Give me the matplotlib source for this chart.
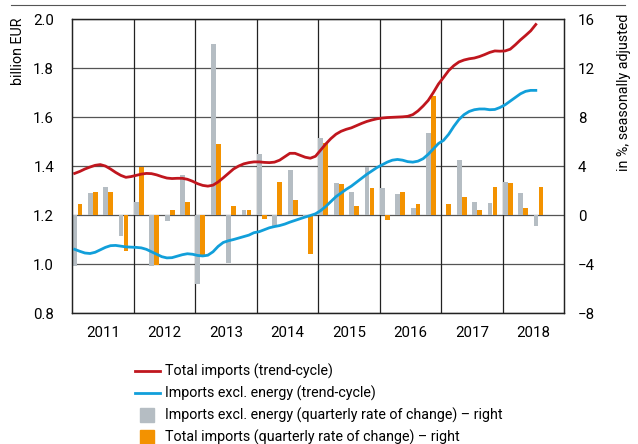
import matplotlib.pyplot as plt
import numpy as np
from matplotlib.lines import Line2D

plt.rcParams['font.family'] = ['Liberation Sans Narrow', 'Roboto', 'DejaVu Sans']

# monthly trend-cycle, billion EUR (Jan 2011 - Jul 2018)
total_trend = [
    1.370, 1.378, 1.388, 1.396, 1.403, 1.406, 1.400, 1.388, 1.374, 1.362, 1.354, 1.357,
    1.362, 1.367, 1.370, 1.369, 1.364, 1.357, 1.351, 1.349, 1.350, 1.350, 1.346, 1.338,
    1.328, 1.321, 1.318, 1.322, 1.335, 1.352, 1.370, 1.388, 1.400, 1.409, 1.414, 1.417,
    1.417, 1.415, 1.414, 1.416, 1.424, 1.438, 1.452, 1.452, 1.444, 1.436, 1.432, 1.440,
    1.465, 1.490, 1.512, 1.530, 1.542, 1.550, 1.556, 1.565, 1.574, 1.582, 1.588, 1.593,
    1.596, 1.598, 1.599, 1.600, 1.601, 1.603, 1.610, 1.625, 1.645, 1.668, 1.700, 1.735,
    1.762, 1.790, 1.810, 1.825, 1.833, 1.838, 1.841, 1.847, 1.855, 1.864, 1.870, 1.869,
    1.870, 1.877, 1.895, 1.915, 1.933, 1.952, 1.978,
]
excl_energy_trend = [
    1.060, 1.052, 1.045, 1.043, 1.048, 1.058, 1.068, 1.075, 1.076, 1.073, 1.070, 1.069,
    1.068, 1.066, 1.060, 1.050, 1.040, 1.030, 1.025, 1.026, 1.032, 1.038, 1.042, 1.040,
    1.035, 1.033, 1.036, 1.050, 1.072, 1.088, 1.095, 1.100, 1.106, 1.112, 1.118, 1.128,
    1.132, 1.140, 1.148, 1.153, 1.157, 1.163, 1.171, 1.178, 1.185, 1.192, 1.198, 1.205,
    1.218, 1.235, 1.255, 1.275, 1.290, 1.305, 1.318, 1.334, 1.350, 1.366, 1.380, 1.394,
    1.405, 1.416, 1.424, 1.427, 1.424, 1.418, 1.416, 1.420, 1.430, 1.448, 1.470, 1.492,
    1.505, 1.530, 1.562, 1.590, 1.610, 1.623, 1.630, 1.633, 1.633, 1.630, 1.631, 1.639,
    1.650, 1.665, 1.680, 1.695, 1.705, 1.709, 1.709,
]

# quarterly rate of change, % (Q1 2011 - Q3 2018)
excl_energy_qoq = [
    -4.2, 1.8, 2.3, -1.7,
    1.1, -4.2, -0.5, 3.3,
    -5.6, 14.0, -3.9, 0.4,
    5.0, -0.9, 3.7, -0.2,
    6.3, 2.6, 1.9, 3.9,
    2.2, 1.7, 0.6, 6.7,
    0.0, 4.5, 1.1, 1.0,
    2.7, 1.8, -0.9,
]
total_qoq = [
    0.9, 1.9, 1.9, -2.9,
    3.9, -4.1, 0.4, 1.1,
    -3.3, 5.8, 0.7, 0.4,
    -0.35, 2.7, 1.2, -3.2,
    5.9, 2.5, 0.7, 2.2,
    -0.4, 1.9, 0.9, 9.7,
    0.9, 1.5, 0.4, 2.3,
    2.6, 0.6, 2.3,
]
years = list(range(2011, 2019))

red = '#c0161e'
blue = '#119fda'
grey = '#b5bdc3'
orange = '#f39200'

fig = plt.figure(figsize=(6.38, 4.44), dpi=100)
ax = fig.add_axes([0.113, 0.295, 0.771, 0.662])
ax2 = ax.twinx()

t_month = 2011 + (np.arange(len(total_trend)) + 0.5) / 12
q_start = 2011 + np.arange(len(total_qoq)) * 0.25

# bars on the right axis, lines on the left axis drawn on top
ax2.bar(q_start + 0.046, excl_energy_qoq, width=0.078, color=grey, zorder=2)
ax2.bar(q_start + 0.127, total_qoq, width=0.078, color=orange, zorder=2)
ax2.set_ylim(-8, 16)
ax2.set_yticks(range(-8, 17, 4))
ax2.set_yticklabels([str(v).replace('-', '\u2212') for v in range(-8, 17, 4)])

ax.set_zorder(ax2.get_zorder() + 1)
ax.patch.set_visible(False)
ax.plot(t_month, total_trend, color=red, lw=2)
ax.plot(t_month, excl_energy_trend, color=blue, lw=2)
ax.set_ylim(0.8, 2.0)
ax.set_yticks(np.arange(0.8, 2.01, 0.2))
ax.set_yticklabels([f'{v:.1f}' for v in np.arange(0.8, 2.01, 0.2)])
ax.set_xlim(2011, 2019)

# grid drawn on the bar axis so it stays behind the bars
for y in range(-8, 17, 4):
    ax2.axhline(y, color='#555555', lw=0.9, zorder=1)
for x in range(2012, 2019):
    ax2.axvline(x, color='#222222', lw=0.9, zorder=1)

ax.set_xticks(years, minor=False)
ax.set_xticklabels([])
ax.set_xticks([y + 0.5 for y in years], minor=True)
ax.set_xticklabels([str(y) for y in years], minor=True)
for a in (ax, ax2):
    a.tick_params(which='both', length=0, labelsize=10.8)
    for s in a.spines.values():
        s.set_color('#222222')
        s.set_linewidth(0.9)
ax.tick_params(axis='x', which='minor', pad=9)
ax.tick_params(axis='y', pad=13)
ax2.tick_params(axis='y', pad=10)

fig.text(0.028, 0.96, 'billion EUR', rotation=90, ha='center', va='top', fontsize=10.3)
fig.text(0.978, 0.97, 'in %, seasonally adjusted', rotation=90, ha='center', va='top', fontsize=10.3)
fig.add_artist(Line2D([0.018, 0.98], [0.989, 0.989], color='#555555', lw=0.8))

handles = [
    Line2D([], [], color=red, lw=2),
    Line2D([], [], color=blue, lw=2),
    Line2D([], [], color=grey, marker='s', markersize=10.5, linestyle='none'),
    Line2D([], [], color=orange, marker='s', markersize=10.5, linestyle='none'),
]
labels = [
    'Total imports (trend-cycle)',
    'Imports excl. energy (trend-cycle)',
    'Imports excl. energy (quarterly rate of change) \u2013 right',
    'Total imports (quarterly rate of change) \u2013 right',
]
fig.legend(handles, labels, loc='upper left', bbox_to_anchor=(0.212, 0.181),
           frameon=False, fontsize=10.3, handlelength=1.7, handletextpad=0.35,
           labelspacing=0.47, borderaxespad=0, borderpad=0)

fig.savefig('out.png', dpi=100)
